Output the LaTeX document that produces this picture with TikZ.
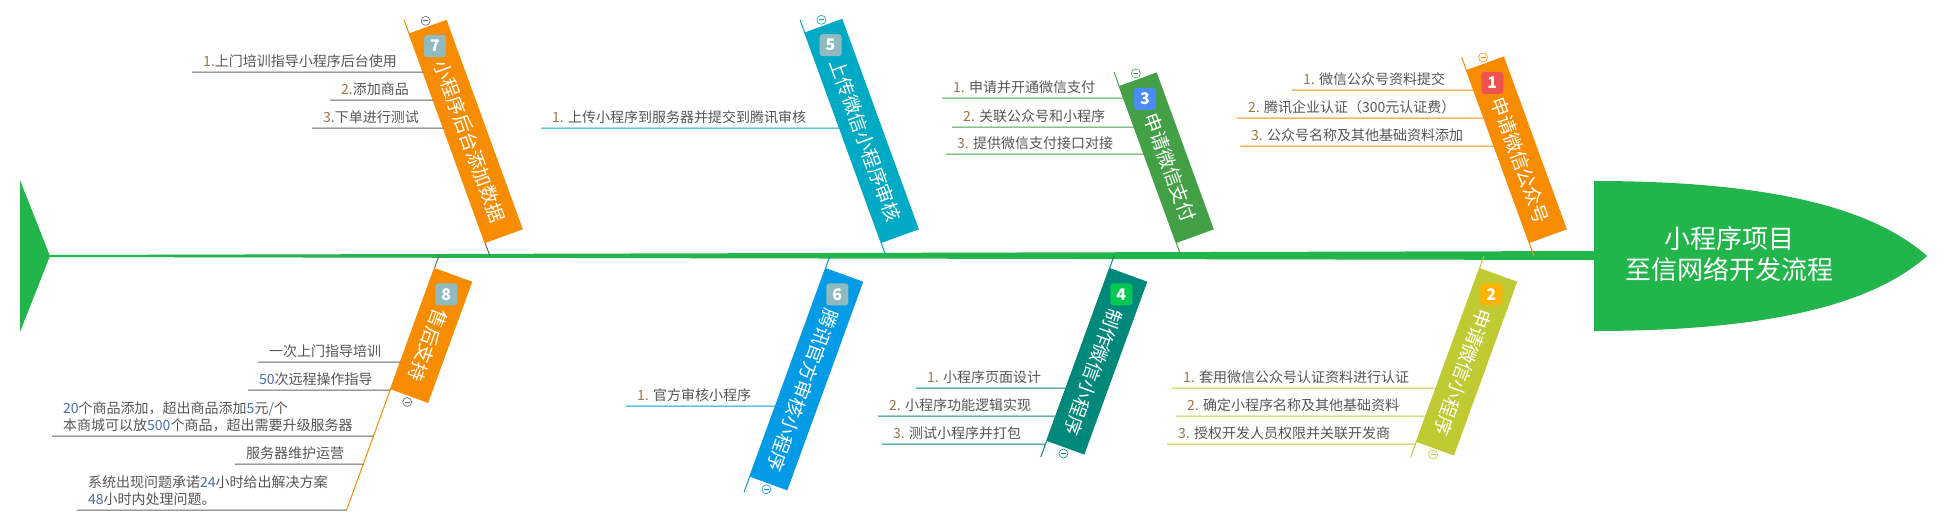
\documentclass[tikz,border=0pt]{standalone}
\usepackage{fontspec}
\setmainfont{Noto Sans CJK SC}
\usepackage{xcolor}
\usepackage{tikz}
\usetikzlibrary{calc}
\definecolor{spinegreen}{RGB}{34,181,75}
\definecolor{boneorange}{RGB}{248,140,0}
\definecolor{bonecyan}{RGB}{0,170,196}
\definecolor{bonegreen}{RGB}{67,160,71}
\definecolor{boneblue}{RGB}{3,155,229}
\definecolor{boneteal}{RGB}{0,137,123}
\definecolor{bonelime}{RGB}{192,202,51}
\definecolor{badgegray}{RGB}{142,186,192}
\definecolor{badgeblue}{RGB}{74,139,245}
\definecolor{badgered}{RGB}{239,83,80}
\definecolor{badgeamber}{RGB}{255,179,0}
\definecolor{badgegreen}{RGB}{0,200,83}
\definecolor{itemgray}{RGB}{85,85,85}
\definecolor{linkgray}{RGB}{100,100,100}
\definecolor{numbrown}{RGB}{160,115,70}
\definecolor{digitblue}{RGB}{70,110,170}
\newcommand{\itemno}[1]{\textcolor{numbrown}{#1}}
\newcommand{\bluedigits}[1]{\textcolor{digitblue}{#1}}
\tikzset{
    bonebox/.style={
        rectangle,
        fill=#1,
        draw=none,
        minimum height=40pt,
        inner sep=0pt
    },
    badge/.style={
        rectangle,
        rounded corners=3pt,
        fill=#1,
        text=white,
        minimum size=22pt,
        inner sep=0pt,
        font=\fontsize{16}{16}\selectfont\bfseries
    },
    bonetext/.style={
        anchor=west,
        inner sep=0pt,
        text=white,
        font=\fontsize{19}{19}\selectfont
    },
    fold/.style={
        circle,
        draw=#1,
        fill=white,
        line width=0.6pt,
        minimum size=9pt,
        inner sep=0pt,
        path picture={\draw[#1, line width=0.8pt]
            ([xshift=-2.5pt]path picture bounding box.center) --
            ([xshift=2.5pt]path picture bounding box.center);}
    },
    item/.style={
        anchor=south west,
        align=left,
        inner xsep=11pt,
        inner ysep=4pt,
        text=itemgray,
        font=\fontsize{14}{17}\selectfont
    },
    itemline/.style={
        draw=#1,
        line width=1pt
    },
    boneline/.style={
        draw=#1,
        line width=1pt
    },
    title/.style={
        align=center,
        text=white,
        font=\fontsize{26}{31}\selectfont
    }
}

\begin{document}
\begin{tikzpicture}[x=1pt, y=-1pt]
    \useasboundingbox (0,0) rectangle (1944,528);
    % fish body: tail, spine and head
    \fill[spinegreen] (20,180) -- (50,256) -- (20,332) -- cycle;
    \fill[spinegreen] (48,255) -- (1596,251) -- (1596,260) -- (48,257) -- cycle;
    \fill[spinegreen] (1594,181) .. controls (1760,181) and (1870,205) .. (1927,256)
        .. controls (1870,307) and (1760,331) .. (1594,331) -- cycle;
    \node[title] (head) at (1729,254) {小程序项目\\至信网络开发流程};

    % upper bones, from the tail to the head
    \coordinate (b7top) at (404.1,20);
    \coordinate (b7base) at (490,256);
    \node[bonebox=boneorange, rotate=-70, minimum width=223pt] (b7) at (465.9,131.4) {};
    \draw[boneline=boneorange] (b7top) -- (b7.south east);
    \draw[boneline=linkgray] (b7.south east) -- (b7base);
    \node[badge=badgegray] (b7n) at ($(b7.west)!21pt!(b7.east)$) {7};
    \node[bonetext, rotate=-70] (b7t) at ($(b7.west)!37pt!(b7.east)$) {小程序后台添加数据};
    \node[fold=linkgray] (b7f) at ($(b7.west)!-6pt!(b7.east)$) {};
    \node[item] (i71) at (192,72) {\itemno{1.}上门培训指导小程序后台使用};
    \node[item] (i72) at (330,100) {\itemno{2.}添加商品};
    \node[item] (i73) at (312,128) {\itemno{3.}下单进行测试};
    \draw[itemline=linkgray] (i71.south west) -- (intersection of i71.south west--i71.south east and b7top--b7base);
    \draw[itemline=linkgray] (i72.south west) -- (intersection of i72.south west--i72.south east and b7top--b7base);
    \draw[itemline=linkgray] (i73.south west) -- (intersection of i73.south west--i73.south east and b7top--b7base);

    \coordinate (b5top) at (800.1,20);
    \coordinate (b5base) at (886,256);
    \node[bonebox=bonecyan, rotate=-70, minimum width=224pt] (b5) at (861.8,130.9) {};
    \draw[boneline=bonecyan] (b5top) -- (b5base);
    \node[badge=badgegray] (b5n) at ($(b5.west)!21pt!(b5.east)$) {5};
    \node[bonetext, rotate=-70] (b5t) at ($(b5.west)!37pt!(b5.east)$) {上传微信小程序审核};
    \node[fold=bonecyan] (b5f) at ($(b5.west)!-6pt!(b5.east)$) {};
    \node[item] (i51) at (541,128) {\itemno{1.} 上传小程序到服务器并提交到腾讯审核};
    \draw[itemline=bonecyan] (i51.south west) -- (intersection of i51.south west--i51.south east and b5top--b5base);

    \coordinate (b3top) at (1114,72);
    \coordinate (b3base) at (1181,256);
    \node[bonebox=bonegreen, rotate=-70, minimum width=167pt] (b3) at (1166.5,157.7) {};
    \draw[boneline=bonegreen] (b3top) -- (b3base);
    \node[badge=badgeblue] (b3n) at ($(b3.west)!21pt!(b3.east)$) {3};
    \node[bonetext, rotate=-70] (b3t) at ($(b3.west)!37pt!(b3.east)$) {申请微信支付};
    \node[fold=bonegreen] (b3f) at ($(b3.west)!-6pt!(b3.east)$) {};
    \node[item] (i31) at (942,98) {\itemno{1.} 申请并开通微信支付};
    \node[item] (i32) at (952,127) {\itemno{2.} 关联公众号和小程序};
    \node[item] (i33) at (946,154) {\itemno{3.} 提供微信支付接口对接};
    \draw[itemline=bonegreen] (i31.south west) -- (intersection of i31.south west--i31.south east and b3top--b3base);
    \draw[itemline=bonegreen] (i32.south west) -- (intersection of i32.south west--i32.south east and b3top--b3base);
    \draw[itemline=bonegreen] (i33.south west) -- (intersection of i33.south west--i33.south east and b3top--b3base);

    \coordinate (b1top) at (1461.6,57);
    \coordinate (b1base) at (1534,256);
    \node[bonebox=boneorange, rotate=-70, minimum width=184pt] (b1) at (1516.6,149.7) {};
    \draw[boneline=boneorange] (b1top) -- (b1base);
    \node[badge=badgered] (b1n) at ($(b1.west)!21pt!(b1.east)$) {1};
    \node[bonetext, rotate=-70] (b1t) at ($(b1.west)!37pt!(b1.east)$) {申请微信公众号};
    \node[fold=boneorange] (b1f) at ($(b1.west)!-6pt!(b1.east)$) {};
    \node[item] (i11) at (1292,90) {\itemno{1.} 微信公众号资料提交};
    \node[item] (i12) at (1237,118) {\itemno{2.} 腾讯企业认证（300元认证费）};
    \node[item] (i13) at (1240,146) {\itemno{3.} 公众号名称及其他基础资料添加};
    \draw[itemline=boneorange] (i11.south west) -- (intersection of i11.south west--i11.south east and b1top--b1base);
    \draw[itemline=boneorange] (i12.south west) -- (intersection of i12.south west--i12.south east and b1top--b1base);
    \draw[itemline=boneorange] (i13.south west) -- (intersection of i13.south west--i13.south east and b1top--b1base);

    % lower bones
    \coordinate (b8base) at (439,256);
    \coordinate (b8bot) at (346.6,510);
    \node[bonebox=boneorange, rotate=-110, minimum width=129pt] (b8) at (431.4,335.5) {};
    \draw[boneline=linkgray] (b8base) -- (b8.south west);
    \draw[boneline=boneorange] (b8.south west) -- (b8bot);
    \node[badge=badgegray] (b8n) at ($(b8.west)!21pt!(b8.east)$) {8};
    \node[bonetext, rotate=-110] (b8t) at ($(b8.west)!37pt!(b8.east)$) {售后支持};
    \node[fold=linkgray] (b8f) at ($(b8.east)!-6pt!(b8.west)$) {};
    \node[item] (i81) at (258,362) {一次上门指导培训};
    \node[item] (i82) at (248,390) {\bluedigits{50}次远程操作指导};
    \node[item] (i83) at (52,436) {\bluedigits{20}个商品添加，超出商品添加\bluedigits{5}元\bluedigits{/}个\\本商城可以放\bluedigits{500}个商品，超出需要升级服务器};
    \node[item] (i84) at (235,464) {服务器维护运营};
    \node[item] (i85) at (77,510) {系统出现问题承诺\bluedigits{24}小时给出解决方案\\\bluedigits{48}小时内处理问题。};
    \draw[itemline=linkgray] (i81.south west) -- (intersection of i81.south west--i81.south east and b8base--b8bot);
    \draw[itemline=linkgray] (i82.south west) -- (intersection of i82.south west--i82.south east and b8base--b8bot);
    \draw[itemline=linkgray] (i83.south west) -- (intersection of i83.south west--i83.south east and b8base--b8bot);
    \draw[itemline=linkgray] (i84.south west) -- (intersection of i84.south west--i84.south east and b8base--b8bot);
    \draw[itemline=linkgray] (i85.south west) -- (intersection of i85.south west--i85.south east and b8base--b8bot);

    \coordinate (b6base) at (830,256);
    \coordinate (b6bot) at (744.1,492);
    \node[bonebox=boneblue, rotate=-110, minimum width=222pt] (b6) at (806.5,379.2) {};
    \draw[boneline=boneblue] (b6base) -- (b6bot);
    \node[badge=badgegray] (b6n) at ($(b6.west)!21pt!(b6.east)$) {6};
    \node[bonetext, rotate=-110] (b6t) at ($(b6.west)!37pt!(b6.east)$) {腾讯官方审核小程序};
    \node[fold=boneblue] (b6f) at ($(b6.east)!-6pt!(b6.west)$) {};
    \node[item] (i61) at (626,406) {\itemno{1.} 官方审核小程序};
    \draw[itemline=boneblue] (i61.south west) -- (intersection of i61.south west--i61.south east and b6base--b6bot);

    \coordinate (b4base) at (1114,256);
    \coordinate (b4bot) at (1040.8,457);
    \node[bonebox=boneteal, rotate=-110, minimum width=184pt] (b4) at (1097,361.3) {};
    \draw[boneline=boneteal] (b4base) -- (b4bot);
    \node[badge=badgegreen] (b4n) at ($(b4.west)!21pt!(b4.east)$) {4};
    \node[bonetext, rotate=-110] (b4t) at ($(b4.west)!37pt!(b4.east)$) {制作微信小程序};
    \node[fold=boneteal] (b4f) at ($(b4.east)!-6pt!(b4.west)$) {};
    \node[item] (i41) at (916,388) {\itemno{1.} 小程序页面设计};
    \node[item] (i42) at (878,416) {\itemno{2.} 小程序功能逻辑实现};
    \node[item] (i43) at (882,444) {\itemno{3.} 测试小程序并打包};
    \draw[itemline=boneteal] (i41.south west) -- (intersection of i41.south west--i41.south east and b4base--b4bot);
    \draw[itemline=boneteal] (i42.south west) -- (intersection of i42.south west--i42.south east and b4base--b4bot);
    \draw[itemline=boneteal] (i43.south west) -- (intersection of i43.south west--i43.south east and b4base--b4bot);

    \coordinate (b2base) at (1484,256);
    \coordinate (b2bot) at (1410.8,457);
    \node[bonebox=bonelime, rotate=-110, minimum width=185pt] (b2) at (1466.8,361.8) {};
    \draw[boneline=bonelime] (b2base) -- (b2bot);
    \node[badge=badgeamber] (b2n) at ($(b2.west)!21pt!(b2.east)$) {2};
    \node[bonetext, rotate=-110] (b2t) at ($(b2.west)!37pt!(b2.east)$) {申请微信小程序};
    \node[fold=bonelime] (b2f) at ($(b2.east)!-6pt!(b2.west)$) {};
    \node[item] (i21) at (1172,388) {\itemno{1.} 套用微信公众号认证资料进行认证};
    \node[item] (i22) at (1176,416) {\itemno{2.} 确定小程序名称及其他基础资料};
    \node[item] (i23) at (1167,444) {\itemno{3.} 授权开发人员权限并关联开发商};
    \draw[itemline=bonelime] (i21.south west) -- (intersection of i21.south west--i21.south east and b2base--b2bot);
    \draw[itemline=bonelime] (i22.south west) -- (intersection of i22.south west--i22.south east and b2base--b2bot);
    \draw[itemline=bonelime] (i23.south west) -- (intersection of i23.south west--i23.south east and b2base--b2bot);
\end{tikzpicture}
\end{document}
